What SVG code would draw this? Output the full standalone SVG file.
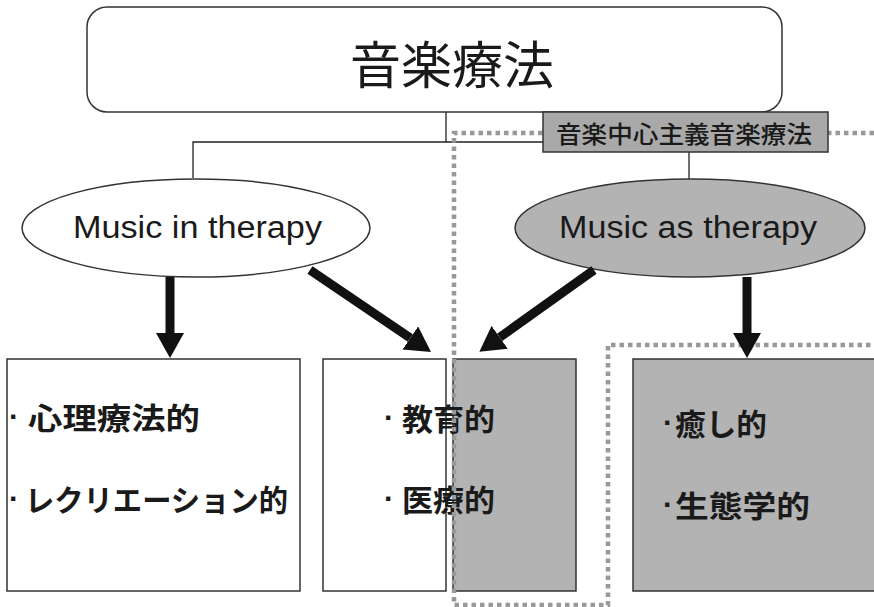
<svg xmlns="http://www.w3.org/2000/svg" width="874" height="607" viewBox="0 0 874 607">
<style>
.box{stroke:#333;stroke-width:1.5}
.white{fill:#fff}
.gray{fill:#b3b3b3}
.thin{fill:none;stroke:#222;stroke-width:1.3}
.arrow{fill:none;stroke:#111;stroke-width:9;marker-end:url(#head)}
.dot{fill:none;stroke:#999;stroke-width:4.5;stroke-dasharray:4.5 4}
.jp{font-family:"Noto Sans CJK JP","Noto Sans CJK SC",sans-serif;fill:#1a1a1a}
.en{font-family:"Liberation Sans",Arial,sans-serif;fill:#1a1a1a;font-size:31px}
.item{font-size:30px;font-weight:bold}
.bul{font-family:"Liberation Sans",Arial,sans-serif;font-size:30px;font-weight:bold;fill:#1a1a1a}
</style>
<defs>
<marker id="head" markerUnits="userSpaceOnUse" viewBox="0 -14 25 28" refX="0" refY="0" markerWidth="25" markerHeight="28" orient="auto">
<path d="M0,-14 L25,0 L0,14 Z" fill="#111"/>
</marker>
</defs>
<rect width="874" height="607" fill="#fff"/>

<g id="connectors-lines">
<path class="thin" d="M446,112 V142 M193,178 V142 H689 V179"/>
</g>

<g id="top">
<rect class="box white" x="87" y="7" width="695" height="105" rx="20"/>
<text class="jp" x="452" y="62" font-size="51" text-anchor="middle" dominant-baseline="central">音楽療法</text>
</g>

<g id="ellipse-in">
<ellipse class="box white" cx="196" cy="228" rx="174" ry="49"/>
<text class="en" x="73" y="238" textLength="249" lengthAdjust="spacingAndGlyphs">Music in therapy</text>
</g>

<g id="ellipse-as">
<ellipse class="box gray" cx="690" cy="228" rx="175" ry="49"/>
<text class="en" x="559" y="238" textLength="258" lengthAdjust="spacingAndGlyphs">Music as therapy</text>
</g>

<g id="box-left">
<rect class="box white" x="7" y="359" width="293" height="232"/>
<text class="bul" x="9" y="416" dominant-baseline="central">·</text>
<text class="jp item" x="28" y="416" dominant-baseline="central" textLength="172" lengthAdjust="spacingAndGlyphs">心理療法的</text>
<text class="bul" x="9" y="498" dominant-baseline="central">·</text>
<text class="jp item" x="25" y="498" dominant-baseline="central" textLength="263" lengthAdjust="spacingAndGlyphs">レクリエーション的</text>
</g>

<g id="box-mid">
<rect class="box white" x="323" y="359" width="123" height="232"/>
<rect class="box gray" x="453" y="359" width="123" height="232"/>
<text class="bul" x="384" y="417" dominant-baseline="central">·</text>
<text class="jp item" x="402" y="417" dominant-baseline="central" textLength="93" lengthAdjust="spacingAndGlyphs">教育的</text>
<text class="bul" x="384" y="498" dominant-baseline="central">·</text>
<text class="jp item" x="402" y="498" dominant-baseline="central" textLength="93" lengthAdjust="spacingAndGlyphs">医療的</text>
</g>

<g id="box-right">
<rect class="box gray" x="633" y="359" width="250" height="232"/>
<text class="bul" x="663" y="422" dominant-baseline="central">·</text>
<text class="jp item" x="675" y="422" dominant-baseline="central" textLength="92" lengthAdjust="spacingAndGlyphs">癒し的</text>
<text class="bul" x="663" y="504" dominant-baseline="central">·</text>
<text class="jp item" x="675" y="504" dominant-baseline="central" textLength="135" lengthAdjust="spacingAndGlyphs">生態学的</text>
</g>

<g id="region">
<path class="dot" d="M874,133 H454 V605 H608 V345 H874"/>
</g>

<g id="label">
<rect class="box" x="543" y="112" width="285" height="40" fill="#a9a9a9"/>
<text class="jp" x="556" y="132" font-size="24" font-weight="500" dominant-baseline="central" textLength="256" lengthAdjust="spacingAndGlyphs">音楽中心主義音楽療法</text>
</g>

<g id="connectors">
<path class="arrow" d="M170,277 V333"/>
<path class="arrow" d="M310,270 L410.3,338"/>
<path class="arrow" d="M594,270 L499.7,337.3"/>
<path class="arrow" d="M747,277 V333"/>
</g>
</svg>
